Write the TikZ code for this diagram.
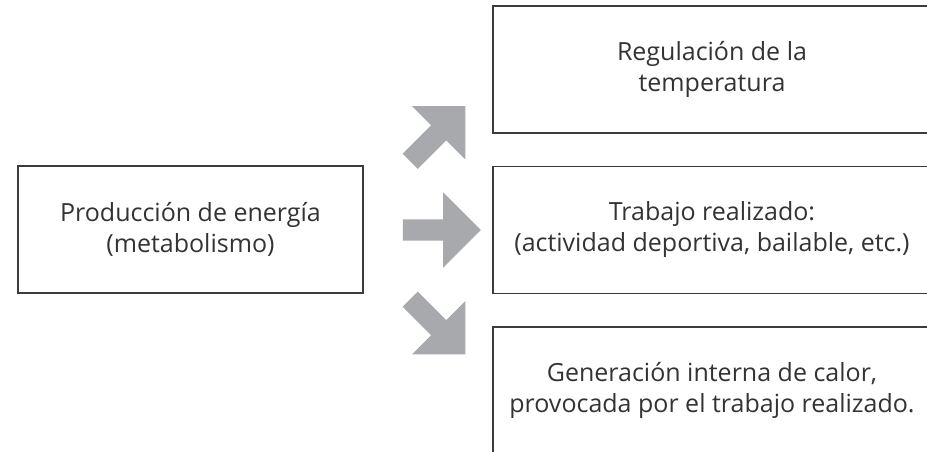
\documentclass[tikz,border=0pt]{standalone}
\usepackage{fontspec}
\setmainfont{Open Sans}
\usetikzlibrary{shapes.arrows}
\definecolor{arrowgray}{HTML}{A7A9AC}
\definecolor{linegray}{HTML}{3C3C3C}
\definecolor{textgray}{HTML}{333333}
\tikzstyle{area}=[draw=linegray, line width=1.3pt]
\tikzstyle{label}=[area, text=textgray, align=center, font=\fontsize{25}{31}\selectfont, inner sep=0pt, minimum width=438pt, minimum height=127pt]
\tikzstyle{blockarrow}=[single arrow, fill=arrowgray, inner xsep=0pt, inner ysep=10.5pt, minimum height=78pt, single arrow head extend=27pt, single arrow head indent=0pt]

\begin{document}
\begin{tikzpicture}[x=1pt,y=1pt]
 	\clip (0,0) rectangle (927,452);
 	\node[label, minimum width=345pt] (prod) at (190.5,222.5) {Producción de energía\\(metabolismo)};
 	\node[label] (temp) at (712,382.5) {Regulación de la\\temperatura};
 	\node[label] (trab) at (712,222) {Trabajo realizado:\\(actividad deportiva, bailable, etc.)};
 	\node[label] (calor) at (712,61.5) {Generación interna de calor,\\provocada por el trabajo realizado.};
 	\node[blockarrow, rotate=45] (up) at (434,314.5) {};
 	\node[blockarrow] (mid) at (436.5,222) {};
 	\node[blockarrow, rotate=-45] (down) at (434,129) {};
\end{tikzpicture}
\end{document}
